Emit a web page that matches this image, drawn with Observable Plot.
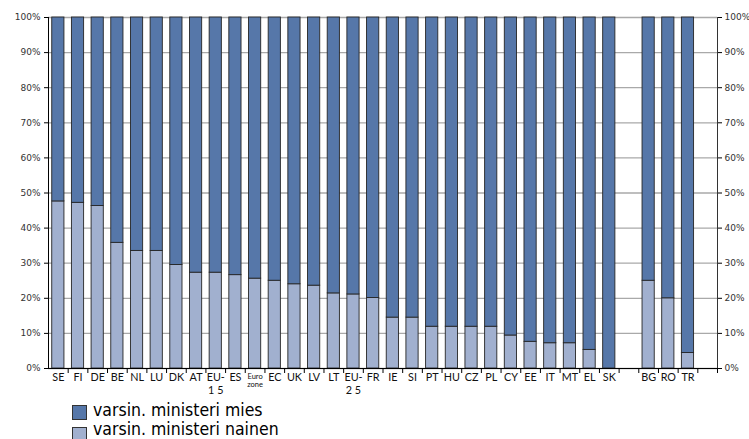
<!DOCTYPE html>
<html>
<head>
<meta charset="utf-8">
<script src="https://cdn.jsdelivr.net/npm/d3@7"></script>
<script src="https://cdn.jsdelivr.net/npm/@observablehq/plot@0.6"></script>
<style>
  html, body { margin: 0; padding: 0; background: #fff; }
  #wrap { position: relative; width: 749px; height: 439px; overflow: hidden; }
  .sw { position: absolute; left: 72px; width: 15px; height: 15px; box-sizing: border-box; border: 1px solid #333; }
  .lt { position: absolute; left: 93px; font-family: "DejaVu Sans Condensed", "DejaVu Sans", sans-serif; font-stretch: condensed; font-size: 17.5px; line-height: 17px; color: #000; white-space: nowrap; }
</style>
</head>
<body>
<div id="wrap">
  <div id="chart"></div>
  <div id="legend"></div>
</div>
<script>
// ---- data ----
const categories = ["SE","FI","DE","BE","NL","LU","DK","AT","EU-15","ES","Euro zone","EC","UK","LV","LT","EU-25","FR","IE","SI","PT","HU","CZ","PL","CY","EE","IT","MT","EL","SK","BG","RO","TR"];
const tickLabels = ["SE","FI","DE","BE","NL","LU","DK","AT","EU-\n1 5","ES","Euro\nzone","EC","UK","LV","LT","EU-\n2 5","FR","IE","SI","PT","HU","CZ","PL","CY","EE","IT","MT","EL","SK","BG","RO","TR"];
const women = [47.6,47.2,46.3,35.8,33.5,33.5,29.5,27.3,27.3,26.6,25.6,25.0,24.0,23.6,21.4,21.1,20.1,14.5,14.5,11.9,11.9,11.9,11.9,9.4,7.6,7.2,7.2,5.3,0,25.0,20.0,4.4];
const men   = [52.4,52.8,53.7,64.2,66.5,66.5,70.5,72.7,72.7,73.4,74.4,75.0,76.0,76.4,78.6,78.9,79.9,85.5,85.5,88.1,88.1,88.1,88.1,90.6,92.4,92.8,92.8,94.7,100,75.0,80.0,95.6];
const seriesNames = ["varsin. ministeri mies","varsin. ministeri nainen"];
const seriesColors = ["#5677a9","#a1b0cf"];
const yTicks = [0,10,20,30,40,50,60,70,80,90,100];

// ---- build ----
const domain = [...categories.slice(0,29), "_gap1", ...categories.slice(29), "_gap2"];
const rows = [];
categories.forEach((c,i) => {
  rows.push({cat:c, series:seriesNames[1], value:women[i]});
  rows.push({cat:c, series:seriesNames[0], value:men[i]});
});
const labelRows = categories.map((c,i) => ({cat:c, label:tickLabels[i]}));

const W = 749, H = 400, mL = 48, mR = 32, mT = 17, mB = 32;
const step = (W - mL - mR) / domain.length;

const chart = Plot.plot({
  width: W, height: H,
  marginTop: mT, marginBottom: mB, marginLeft: mL, marginRight: mR,
  x: {domain, paddingInner: 0.38, paddingOuter: 0.19, round: false, axis: null},
  y: {domain: [0,100], axis: null},
  color: {domain: seriesNames, range: seriesColors},
  style: {fontFamily: "DejaVu Sans, sans-serif", background: "white", overflow: "visible"},
  marks: [
    Plot.gridY(yTicks, {stroke: "#a9a9a9", strokeOpacity: 1, strokeWidth: 1.3}),
    Plot.barY(rows, {x: "cat", y: "value", fill: "series", stroke: "#262626", strokeWidth: 0.9}),
    Plot.ruleY([0], {stroke: "#000", strokeWidth: 1}),
    Plot.ruleX([domain[0]], {y1: 0, y2: 100, dx: -step/2, stroke: "#000", strokeWidth: 1}),
    Plot.ruleX([domain[domain.length-1]], {y1: 0, y2: 100, dx: step/2, stroke: "#333", strokeWidth: 1}),
    Plot.ruleX(domain, {y1: 0, y2: 0, dx: step/2, insetBottom: -5, stroke: "#000", strokeWidth: 1}),
    Plot.axisY(yTicks, {anchor: "left", label: null, tickSize: 4, tickPadding: 4, fontSize: 9, tickFormat: d => d + "%", stroke: "#000", fill: "#333"}),
    Plot.axisY(yTicks, {anchor: "right", label: null, tickSize: 4, tickPadding: 3, fontSize: 9, tickFormat: d => d + "%", stroke: "#000", fill: "#333"}),
    Plot.text(labelRows, {x: "cat", y: () => 0, text: "label", dy: 4, lineAnchor: "top", lineHeight: 1.15,
      fontFamily: "Lato, sans-serif", fill: "#111",
      fontSize: d => d.cat === "Euro zone" ? 7.5 : 10.8})
  ]
});
document.getElementById("chart").appendChild(chart);

const legend = document.getElementById("legend");
const swTops = [405, 427], txtTops = [402, 421];
seriesNames.forEach((s,i) => {
  const sw = document.createElement("div"); sw.className = "sw";
  sw.style.background = seriesColors[i]; sw.style.top = swTops[i] + "px";
  const t = document.createElement("div"); t.className = "lt";
  t.style.top = txtTops[i] + "px"; t.textContent = s;
  legend.appendChild(sw); legend.appendChild(t);
});
</script>
</body>
</html>
